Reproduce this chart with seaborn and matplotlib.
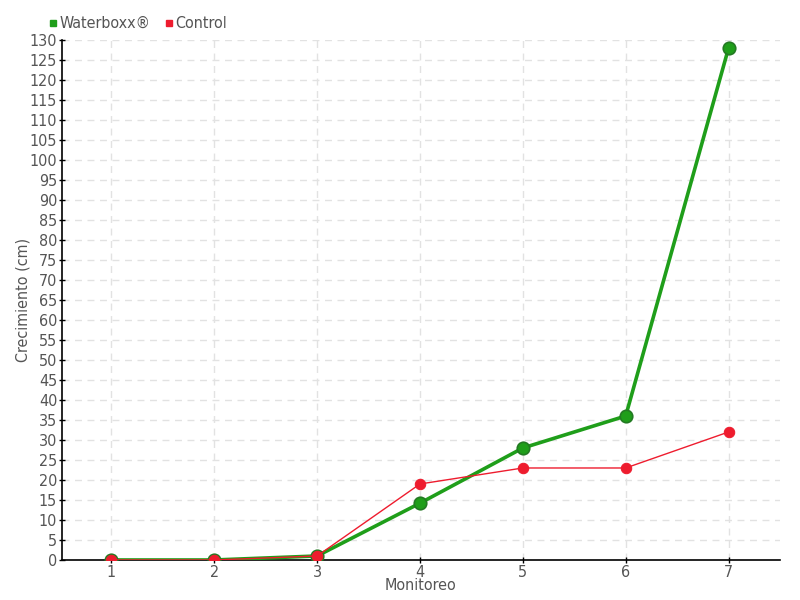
import matplotlib
matplotlib.use("Agg")
import matplotlib.pyplot as plt
import seaborn as sns
import pandas as pd
from matplotlib.lines import Line2D

monitoreo = [1, 2, 3, 4, 5, 6, 7]
waterboxx = [0, 0, 1, 14.2, 28, 36, 128]
control = [0, 0, 1, 19, 23, 23, 32]

sns.set_theme(style="white")
plt.rcParams['font.family'] = ['DejaVu Sans']
plt.rcParams['font.stretch'] = 'condensed'

df = pd.DataFrame({
    "Monitoreo": monitoreo * 2,
    "Crecimiento": waterboxx + control,
    "Serie": ["Waterboxx®"] * 7 + ["Control"] * 7,
})

fig = plt.figure(figsize=(8, 6), dpi=100)
ax = fig.add_axes([0.0775, 0.0667, 0.8975, 0.8666])

green = "#1f9e1a"
red = "#ee1c2e"

sns.lineplot(data=df[df.Serie == "Waterboxx®"], x="Monitoreo", y="Crecimiento", ax=ax,
             color=green, linewidth=2.6, marker="o", markersize=9,
             markerfacecolor="#1f9e1a", markeredgecolor="#237a23", markeredgewidth=1.2,
             zorder=3, legend=False)
sns.lineplot(data=df[df.Serie == "Control"], x="Monitoreo", y="Crecimiento", ax=ax,
             color=red, linewidth=1, marker="o", markersize=7.5,
             markerfacecolor=red, markeredgecolor=red,
             zorder=4, legend=False)

ax.set_xlim(0.52, 7.5)
ax.set_ylim(0, 130)
ax.set_yticks(range(0, 131, 5))
ax.set_xticks(monitoreo)
ax.grid(True, linestyle=(0, (5, 4)), color="#e2e2e2", linewidth=1)
ax.set_axisbelow(True)
for s in ["top", "right"]:
    ax.spines[s].set_visible(False)
for s in ["left", "bottom"]:
    ax.spines[s].set_color("black")
    ax.spines[s].set_linewidth(1.2)
ax.tick_params(axis="both", colors="black", labelcolor="#555555", labelsize=11.5,
               length=5, width=1, direction="inout", left=True, bottom=True, pad=1)

ax.set_xlabel("Monitoreo", fontsize=11.5, color="#555555", labelpad=-1)
ax.set_ylabel("Crecimiento (cm)", fontsize=11.5, color="#555555", labelpad=-1)

handles = [
    Line2D([], [], marker="s", linestyle="none", color=green, markersize=5),
    Line2D([], [], marker="s", linestyle="none", color=red, markersize=5),
]
fig.legend(handles, ["Waterboxx®", "Control"], loc="upper left",
           bbox_to_anchor=(0.036, 0.997), ncol=2, frameon=False, fontsize=11.5,
           handletextpad=-0.2, columnspacing=0.6, handlelength=1.2,
           labelcolor="#555555")

fig.savefig("out.png", dpi=100)
